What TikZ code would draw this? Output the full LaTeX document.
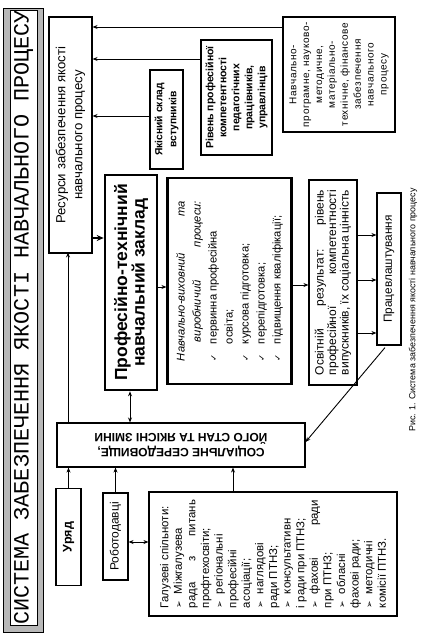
\documentclass[tikz,border=0pt]{standalone}
\usepackage{fontspec}
\setmainfont{Liberation Sans}
\newfontfamily\monofont{Liberation Mono}
\newfontfamily\dingfont{DejaVu Sans}
\usepackage{graphicx}
\usetikzlibrary{arrows.meta}

% Text in the scheme runs upwards, so every label is set in a turned parbox.
\newcommand{\uptext}[2]{\rotatebox{90}{\parbox{#1}{#2}}}
\newcommand{\tick}{\makebox[17pt][l]{\dingfont\fontsize{8.5}{8.5}\selectfont ✓}}
\newcommand{\pnt}{\makebox[14pt][l]{\dingfont\fontsize{9}{9}\selectfont ➢}}

\begin{document}
\begin{tikzpicture}[
  x=1pt, y=-1pt,
  >={Stealth[length=5pt, width=4pt]},
  box/.style={draw, line width=1.1pt, inner sep=0pt, fill=white},
  heavy/.style={box, line width=2.6pt},
  link/.style={line width=0.9pt},
  fat/.style={line width=1.8pt, -{Stealth[length=7pt, width=6pt]}},
]
\useasboundingbox (0,0) rectangle (422,642);

% ================================ title strip ================================
\fill[black!28] (3,8) rectangle (43,632);
\draw[line width=0.5pt] (3,8) rectangle (43,632);
\node[draw, fill=white, line width=0.6pt, inner sep=0pt,
      minimum width=27pt, minimum height=609pt,
      font=\monofont\fontsize{21.8}{24}\selectfont] (title) at (23.5,317.5)
  {\rotatebox{90}{СИСТЕМА ЗАБЕЗПЕЧЕННЯ ЯКОСТІ НАВЧАЛЬНОГО ПРОЦЕСУ}};

% ============================ resources and sources ==========================
\node[box, minimum width=43pt, minimum height=236pt,
      font=\fontsize{13.2}{17}\selectfont] (res) at (70.5,135)
  {\uptext{215pt}{\centering Ресурси забезпечення якості\\ навчального процесу}};

\node[box, minimum width=33pt, minimum height=99pt,
      font=\bfseries\fontsize{10.3}{14}\selectfont] (ent) at (166.5,119.5)
  {\uptext{95pt}{\centering Якісний склад\\ вступників}};

\node[box, minimum width=71pt, minimum height=115pt,
      font=\bfseries\fontsize{10.5}{13}\selectfont] (lev) at (236.5,97.5)
  {\uptext{112pt}{\centering Рівень професійної\\ компетентності\\ педагогічних\\
   працівників,\\ управлінців}};

\node[box, minimum width=112pt, minimum height=115pt,
      font=\fontsize{10}{12.9}\selectfont\addfontfeature{LetterSpace=6}] (prog) at (339,74.5)
  {\uptext{112pt}{\centering Навчально-\\ програмне, науково-\\ методичне,\\ матеріально-\\
   технічне, фінансове\\ забезпечення\\ навчального\\ процесу}};

\foreach \src/\y in {prog/27, lev/59, ent/116}
  \draw[link, ->] (\src.west |- 0,\y) -- (res.east |- 0,\y);

% ============================ school and its process =========================
\node[heavy, minimum width=52pt, minimum height=215pt,
      font=\bfseries\fontsize{17.5}{17.5}\selectfont] (ptnz) at (131,282.5)
  {\uptext{208pt}{\centering Професійно-технічний\\ навчальний заклад}};

\node[heavy, minimum width=124pt, minimum height=206pt,
      font=\fontsize{11.2}{16}\selectfont] (nv) at (229.75,281)
  {\uptext{160pt}{\itshape Навчально-виховний \hfill та\\
   \hspace*{19pt}виробничий \hfill процеси:\\ \upshape
   \tick первинна професійна\\ \hspace*{17pt}освіта;\\ \tick курсова підготовка;\\
   \tick перепідготовка;\\ \tick підвищення кваліфікації;}};

\node[box, minimum width=48pt, minimum height=205pt,
      font=\fontsize{12}{12.5}\selectfont] (out) at (333,282.5)
  {\uptext{185pt}{Освітній \hfill результат: \hfill рівень\\
   професійної \hfill компетентності\\ випускників, їх соціальна цінність}};

\node[box, minimum width=24pt, minimum height=152pt,
      font=\fontsize{11.8}{14}\selectfont] (job) at (389,269)
  {\rotatebox{90}{Працевлаштування}};

\draw[fat] (res.east |- 0,238) -- (ptnz.west |- 0,238);
\draw[link, ->] (ptnz.east |- 0,287) -- (nv.west |- 0,287);
\draw[link, ->] (nv.east |- 0,285) -- (out.west |- 0,285);
\foreach \y in {235,280,333}
  \draw[link, ->] (out.east |- 0,\y) -- (job.west |- 0,\y);

% ================================ environment ================================
\node[box, minimum width=248pt, minimum height=44pt,
      font=\bfseries\fontsize{12}{15}\selectfont] (soc) at (181,445)
  {\rotatebox{180}{\parbox{220pt}{\centering СОЦІАЛЬНЕ СЕРЕДОВИЩЕ,\\
   ЙОГО СТАН ТА ЯКІСНІ ЗМІНИ}}};

\node[box, minimum width=25pt, minimum height=97pt,
      font=\bfseries\fontsize{12.5}{14}\selectfont] (gov) at (68.5,537)
  {\rotatebox{90}{Уряд}};

\node[box, minimum width=25pt, minimum height=87pt,
      font=\fontsize{12}{14}\selectfont] (emp) at (115.5,536.5)
  {\rotatebox{90}{Роботодавці}};

\node[box, minimum width=248pt, minimum height=124pt,
      font=\fontsize{11.4}{13.6}\selectfont] (ind) at (273,554)
  {\uptext{108pt}{Галузеві спільноти:\\ \pnt Міжгалузева\\ рада \hfill з \hfill питань\\
   профтехосвіти;\\ \pnt регіональні\\ професійні\\ асоціації;\\ \pnt наглядові\\
   ради ПТНЗ;\\ \pnt консультативн\\ і ради при ПТНЗ;\\ \pnt фахові \hfill ради\\
   при ПТНЗ;\\ \pnt обласні\\ фахові ради;\\ \pnt методичні\\ комісії ПТНЗ.}};

\draw[link, ->] (soc.north -| res.south) ++(-2.5,0) -- ++(0,-170);
\draw[link, <->] (ptnz.south) ++(-1,0) -- (soc.north -| 130,0);
\draw[link, ->] (job.south) ++(-4,2) -- (soc.east |- 0,442);
\draw[link, ->] (gov.north) -- (gov.north |- soc.south);
\draw[link, ->] (emp.north) -- (emp.north |- soc.south);
\draw[link, ->] (ind.north -| 233,0) -- (soc.south -| 233,0);
\draw[link, <->] (emp.east |- 0,542) -- (ind.west |- 0,542);

% ================================== caption ==================================
\node[font=\fontsize{8.9}{10}\selectfont] (cap) at (413,310)
  {\rotatebox{90}{Рис. 1. Система забезпечення якості навчального процесу}};
\end{tikzpicture}
\end{document}
